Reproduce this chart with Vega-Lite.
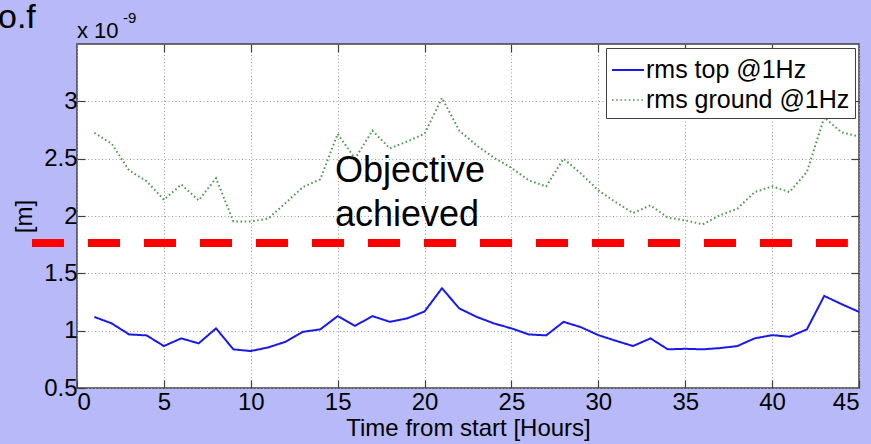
{
  "$schema": "https://vega.github.io/schema/vega-lite/v6.json",
  "width": 782,
  "height": 344,
  "autosize": "none",
  "padding": {"left": 77, "top": 44, "right": 12, "bottom": 56},
  "background": "#b7b9f9",
  "config": {
    "font": "Liberation Sans",
    "view": {"fill": "white", "stroke": "#404040", "strokeWidth": 1.5},
    "axis": {
      "labelFont": "Liberation Sans",
      "titleFont": "Liberation Sans",
      "labelFontSize": 24,
      "titleFontSize": 24,
      "labelColor": "black",
      "titleColor": "black",
      "titleFontWeight": "normal",
      "tickColor": "#404040",
      "tickWidth": 1.2,
      "gridColor": "#9a9a9a",
      "gridDash": [1, 2.5],
      "gridWidth": 1,
      "domain": false
    }
  },
  "datasets": {
    "rms": [
      {"hour": 1, "series": "rms top @1Hz", "value": 1.12},
      {"hour": 2, "series": "rms top @1Hz", "value": 1.063},
      {"hour": 3, "series": "rms top @1Hz", "value": 0.967},
      {"hour": 4, "series": "rms top @1Hz", "value": 0.959},
      {"hour": 5, "series": "rms top @1Hz", "value": 0.866},
      {"hour": 6, "series": "rms top @1Hz", "value": 0.933},
      {"hour": 7, "series": "rms top @1Hz", "value": 0.889},
      {"hour": 8, "series": "rms top @1Hz", "value": 1.02},
      {"hour": 9, "series": "rms top @1Hz", "value": 0.837},
      {"hour": 10, "series": "rms top @1Hz", "value": 0.822},
      {"hour": 11, "series": "rms top @1Hz", "value": 0.854},
      {"hour": 12, "series": "rms top @1Hz", "value": 0.903},
      {"hour": 13, "series": "rms top @1Hz", "value": 0.99},
      {"hour": 14, "series": "rms top @1Hz", "value": 1.011},
      {"hour": 15, "series": "rms top @1Hz", "value": 1.127},
      {"hour": 16, "series": "rms top @1Hz", "value": 1.042},
      {"hour": 17, "series": "rms top @1Hz", "value": 1.127},
      {"hour": 18, "series": "rms top @1Hz", "value": 1.077},
      {"hour": 19, "series": "rms top @1Hz", "value": 1.107},
      {"hour": 20, "series": "rms top @1Hz", "value": 1.167},
      {"hour": 21, "series": "rms top @1Hz", "value": 1.37},
      {"hour": 22, "series": "rms top @1Hz", "value": 1.194},
      {"hour": 23, "series": "rms top @1Hz", "value": 1.12},
      {"hour": 24, "series": "rms top @1Hz", "value": 1.063},
      {"hour": 25, "series": "rms top @1Hz", "value": 1.02},
      {"hour": 26, "series": "rms top @1Hz", "value": 0.967},
      {"hour": 27, "series": "rms top @1Hz", "value": 0.959},
      {"hour": 28, "series": "rms top @1Hz", "value": 1.077},
      {"hour": 29, "series": "rms top @1Hz", "value": 1.03},
      {"hour": 30, "series": "rms top @1Hz", "value": 0.961},
      {"hour": 31, "series": "rms top @1Hz", "value": 0.912},
      {"hour": 32, "series": "rms top @1Hz", "value": 0.866},
      {"hour": 33, "series": "rms top @1Hz", "value": 0.933},
      {"hour": 34, "series": "rms top @1Hz", "value": 0.837},
      {"hour": 35, "series": "rms top @1Hz", "value": 0.842},
      {"hour": 36, "series": "rms top @1Hz", "value": 0.837},
      {"hour": 37, "series": "rms top @1Hz", "value": 0.848},
      {"hour": 38, "series": "rms top @1Hz", "value": 0.866},
      {"hour": 39, "series": "rms top @1Hz", "value": 0.933},
      {"hour": 40, "series": "rms top @1Hz", "value": 0.961},
      {"hour": 41, "series": "rms top @1Hz", "value": 0.947},
      {"hour": 42, "series": "rms top @1Hz", "value": 1.011},
      {"hour": 43, "series": "rms top @1Hz", "value": 1.303},
      {"hour": 44, "series": "rms top @1Hz", "value": 1.231},
      {"hour": 45, "series": "rms top @1Hz", "value": 1.164},
      {"hour": 1, "series": "rms ground @1Hz", "value": 2.725},
      {"hour": 2, "series": "rms ground @1Hz", "value": 2.63},
      {"hour": 3, "series": "rms ground @1Hz", "value": 2.397},
      {"hour": 4, "series": "rms ground @1Hz", "value": 2.304},
      {"hour": 5, "series": "rms ground @1Hz", "value": 2.142},
      {"hour": 6, "series": "rms ground @1Hz", "value": 2.275},
      {"hour": 7, "series": "rms ground @1Hz", "value": 2.136},
      {"hour": 8, "series": "rms ground @1Hz", "value": 2.33},
      {"hour": 9, "series": "rms ground @1Hz", "value": 1.953},
      {"hour": 10, "series": "rms ground @1Hz", "value": 1.953},
      {"hour": 11, "series": "rms ground @1Hz", "value": 1.977},
      {"hour": 12, "series": "rms ground @1Hz", "value": 2.113},
      {"hour": 13, "series": "rms ground @1Hz", "value": 2.252},
      {"hour": 14, "series": "rms ground @1Hz", "value": 2.32},
      {"hour": 15, "series": "rms ground @1Hz", "value": 2.717},
      {"hour": 16, "series": "rms ground @1Hz", "value": 2.5},
      {"hour": 17, "series": "rms ground @1Hz", "value": 2.745},
      {"hour": 18, "series": "rms ground @1Hz", "value": 2.59},
      {"hour": 19, "series": "rms ground @1Hz", "value": 2.65},
      {"hour": 20, "series": "rms ground @1Hz", "value": 2.717},
      {"hour": 21, "series": "rms ground @1Hz", "value": 3.03},
      {"hour": 22, "series": "rms ground @1Hz", "value": 2.745},
      {"hour": 23, "series": "rms ground @1Hz", "value": 2.615},
      {"hour": 24, "series": "rms ground @1Hz", "value": 2.508},
      {"hour": 25, "series": "rms ground @1Hz", "value": 2.42},
      {"hour": 26, "series": "rms ground @1Hz", "value": 2.31},
      {"hour": 27, "series": "rms ground @1Hz", "value": 2.258},
      {"hour": 28, "series": "rms ground @1Hz", "value": 2.5},
      {"hour": 29, "series": "rms ground @1Hz", "value": 2.37},
      {"hour": 30, "series": "rms ground @1Hz", "value": 2.223},
      {"hour": 31, "series": "rms ground @1Hz", "value": 2.121},
      {"hour": 32, "series": "rms ground @1Hz", "value": 2.026},
      {"hour": 33, "series": "rms ground @1Hz", "value": 2.093},
      {"hour": 34, "series": "rms ground @1Hz", "value": 1.986},
      {"hour": 35, "series": "rms ground @1Hz", "value": 1.962},
      {"hour": 36, "series": "rms ground @1Hz", "value": 1.927},
      {"hour": 37, "series": "rms ground @1Hz", "value": 2.006},
      {"hour": 38, "series": "rms ground @1Hz", "value": 2.064},
      {"hour": 39, "series": "rms ground @1Hz", "value": 2.209},
      {"hour": 40, "series": "rms ground @1Hz", "value": 2.258},
      {"hour": 41, "series": "rms ground @1Hz", "value": 2.209},
      {"hour": 42, "series": "rms ground @1Hz", "value": 2.383},
      {"hour": 43, "series": "rms ground @1Hz", "value": 2.86},
      {"hour": 44, "series": "rms ground @1Hz", "value": 2.73},
      {"hour": 45, "series": "rms ground @1Hz", "value": 2.693}
    ],
    "objective": [{"start": -2.59, "end": 44.36, "level": 1.765}],
    "note": [{"text": "Objective\nachieved", "hour": 14.84, "value": 2.293}],
    "corner": [{"hour": 0, "value": 3.5}]
  },
  "resolve": {"scale": {"x": "independent", "y": "independent"}, "axis": {"x": "independent", "y": "independent"}},
  "layer": [
    {
      "layer": [
        {
          "data": {"name": "rms"},
          "mark": {"type": "line", "strokeWidth": 2},
          "encoding": {
            "x": {
              "field": "hour", "type": "quantitative",
              "scale": {"domain": [0, 45], "nice": false, "zero": false},
              "axis": {"values": [0, 5, 10, 15, 20, 25, 30, 35, 40, 45], "format": "d", "tickSize": -8, "labelPadding": 10, "title": "Time from start [Hours]", "titlePadding": 2}
            },
            "y": {
              "field": "value", "type": "quantitative",
              "scale": {"domain": [0.5, 3.5], "nice": false, "zero": false},
              "axis": {"values": [0.5, 1, 1.5, 2, 2.5, 3], "format": "~g", "tickSize": -8, "labelPadding": 8, "title": "[m]", "titlePadding": 7}
            },
            "color": {
              "field": "series", "type": "nominal",
              "scale": {"domain": ["rms top @1Hz", "rms ground @1Hz"], "range": ["#1a1ae8", "#4f9a4f"]},
              "legend": {
                "title": null, "orient": "top-right", "offset": 4,
                "fillColor": "white", "strokeColor": "#404040", "padding": 5,
                "symbolType": "stroke", "symbolSize": 1024, "symbolStrokeWidth": 2,
                "labelFontSize": 25, "labelFont": "Liberation Sans", "labelColor": "black", "labelOffset": 1, "rowPadding": -2, "labelLimit": 300
              }
            },
            "strokeDash": {
              "field": "series", "type": "nominal",
              "scale": {"domain": ["rms top @1Hz", "rms ground @1Hz"], "range": [[1, 0], [1.6, 2.6]]},
              "legend": null
            },
            "strokeWidth": {
              "field": "series", "type": "nominal",
              "scale": {"domain": ["rms top @1Hz", "rms ground @1Hz"], "range": [2, 1.6]},
              "legend": null
            }
          }
        },
        {
          "data": {"name": "objective"},
          "mark": {"type": "rule", "color": "#ff0000", "strokeWidth": 8, "strokeDash": [32, 24], "clip": false},
          "encoding": {
            "x": {"field": "start", "type": "quantitative"},
            "x2": {"field": "end"},
            "y": {"field": "level", "type": "quantitative"}
          }
        },
        {
          "data": {"name": "note"},
          "mark": {"type": "text", "align": "left", "baseline": "alphabetic", "fontSize": 36, "lineBreak": "\n", "lineHeight": 44, "color": "black", "font": "Liberation Sans"},
          "encoding": {
            "x": {"field": "hour", "type": "quantitative"},
            "y": {"field": "value", "type": "quantitative"},
            "text": {"field": "text"}
          }
        },
        {
          "data": {"name": "corner"},
          "mark": {"type": "text", "align": "left", "baseline": "alphabetic", "fontSize": 34, "dx": -79, "dy": -16, "color": "black", "clip": false},
          "encoding": {
            "x": {"field": "hour", "type": "quantitative"},
            "y": {"field": "value", "type": "quantitative"},
            "text": {"value": "o.f"}
          }
        },
        {
          "data": {"name": "corner"},
          "mark": {"type": "text", "align": "left", "baseline": "alphabetic", "fontSize": 22, "dx": 0, "dy": -6, "color": "black"},
          "encoding": {
            "x": {"field": "hour", "type": "quantitative"},
            "y": {"field": "value", "type": "quantitative"},
            "text": {"value": "x 10"}
          }
        },
        {
          "data": {"name": "corner"},
          "mark": {"type": "text", "align": "left", "baseline": "alphabetic", "fontSize": 15, "dx": 46, "dy": -21, "color": "black"},
          "encoding": {
            "x": {"field": "hour", "type": "quantitative"},
            "y": {"field": "value", "type": "quantitative"},
            "text": {"value": "-9"}
          }
        }
      ]
    },
    {
      "data": {"name": "rms"},
      "mark": {"type": "point", "opacity": 0},
      "encoding": {
        "x": {
          "field": "hour", "type": "quantitative",
          "scale": {"domain": [0, 45], "nice": false, "zero": false},
          "axis": {"orient": "top", "values": [5, 10, 15, 20, 25, 30, 35, 40], "labels": false, "grid": false, "tickSize": -8, "title": null}
        },
        "y": {
          "field": "value", "type": "quantitative",
          "scale": {"domain": [0.5, 3.5], "nice": false, "zero": false},
          "axis": {"orient": "right", "values": [1, 1.5, 2, 2.5, 3], "labels": false, "grid": false, "tickSize": -8, "title": null}
        }
      }
    }
  ]
}
